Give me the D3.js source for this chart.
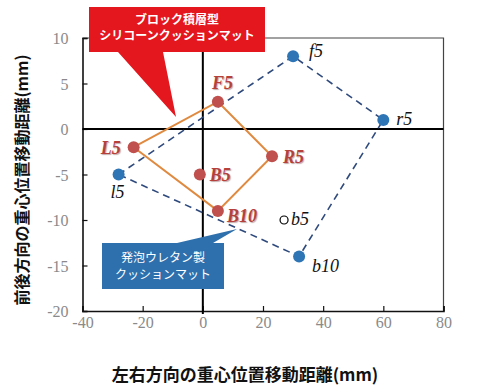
<!DOCTYPE html>
<html><head><meta charset="utf-8">
<script src="https://cdn.jsdelivr.net/npm/d3@7"></script>
<style>body{margin:0;background:#fff}</style>
</head><body>
<svg id="c" width="477" height="386"></svg>
<script>
const xTicks=[-40,-20,0,20,40,60,80];
const yTicks=[-20,-15,-10,-5,0,5,10];
const siliconeNames=["L5","F5","R5","B10"];
const siliconeX=[-23,5,23,5];
const siliconeY=[-2,3,-3,-9];
const siliconeExtraName=["B5"];
const siliconeExtraX=[-1];
const siliconeExtraY=[-5];
const urethaneNames=["l5","f5","r5","b10"];
const urethaneX=[-28,30,60,32];
const urethaneY=[-5,8,1,-14];
const urethaneOpenName=["b5"];
const urethaneOpenX=[27];
const urethaneOpenY=[-10];
const xTitle="左右方向の重心位置移動距離(mm)";
const yTitle="前後方向の重心位置移動距離(mm)";
const redCallout=["ブロック積層型","シリコーンクッションマット"];
const blueCallout=["発泡ウレタン製","クッションマット"];

const svg=d3.select("#c");
const L=82.5,R=443.5,T=38,B=311;
const x=d3.scaleLinear().domain([-40,80]).range([L,R]);
const y=d3.scaleLinear().domain([-20,10]).range([B,T]);
const serif="'Liberation Serif','Times New Roman',serif";
const sans="'Noto Sans CJK JP',sans-serif";

svg.append("path").attr("d",`M${L},${T}H${R}V${B}`).attr("fill","none").attr("stroke","#444").attr("stroke-width",1.2);

const gx=svg.append("g").attr("transform",`translate(0,${B})`)
  .call(d3.axisBottom(x).tickValues(xTicks).tickSize(-5).tickPadding(14).tickFormat(d=>String(d)));
const gy=svg.append("g").attr("transform",`translate(${L},0)`)
  .call(d3.axisLeft(y).tickValues(yTicks).tickSize(-5).tickPadding(14).tickFormat(d=>String(d)));
[gx,gy].forEach(g=>{
  g.attr("font-family",serif).attr("font-size",16);
  g.select(".domain").attr("stroke","#111").attr("stroke-width",1.6);
  g.selectAll(".tick line").attr("stroke","#111").attr("stroke-width",1.2);
  g.selectAll(".tick text").attr("fill","#8a8a8a");
});
gx.selectAll(".tick text").attr("dy","0.2em");
gy.selectAll(".tick text").attr("dy","0.35em");

svg.append("line").attr("x1",x(0)).attr("x2",x(0)).attr("y1",T).attr("y2",B+3).attr("stroke","#000").attr("stroke-width",2);
svg.append("line").attr("x1",L).attr("x2",R).attr("y1",y(0)).attr("y2",y(0)).attr("stroke","#000").attr("stroke-width",2);

const line=d3.line().x(d=>x(d[0])).y(d=>y(d[1]));
const uPts=urethaneX.map((v,i)=>[v,urethaneY[i]]);
const sPts=siliconeX.map((v,i)=>[v,siliconeY[i]]);

svg.append("path").attr("d",line([...uPts,uPts[0]])).attr("fill","none")
  .attr("stroke","#2f4a7c").attr("stroke-width",1.6).attr("stroke-dasharray","7,5");
svg.append("path").attr("d",line([...sPts,sPts[0]])).attr("fill","none")
  .attr("stroke","#e08a40").attr("stroke-width",2);

svg.selectAll(".up").data(uPts).join("circle").attr("cx",d=>x(d[0])).attr("cy",d=>y(d[1])).attr("r",6).attr("fill","#2e75b6");
svg.selectAll(".ob").data(urethaneOpenX.map((v,i)=>[v,urethaneOpenY[i]])).join("circle")
  .attr("cx",d=>x(d[0])).attr("cy",d=>y(d[1])).attr("r",4).attr("fill","#fff").attr("stroke","#000").attr("stroke-width",1.2);
const sAll=[...sPts,...siliconeExtraX.map((v,i)=>[v,siliconeExtraY[i]])];
svg.selectAll(".sp").data(sAll).join("circle").attr("cx",d=>x(d[0])).attr("cy",d=>y(d[1])).attr("r",6).attr("fill","#c0504d");

const redLab={L5:[-33,7],F5:[-6,-13],R5:[11,7],B10:[9,11],B5:[10,6]};
const sNames=[...siliconeNames,...siliconeExtraName];
svg.selectAll(".sl").data(sAll).join("text")
  .attr("x",(d,i)=>x(d[0])+redLab[sNames[i]][0]).attr("y",(d,i)=>y(d[1])+redLab[sNames[i]][1])
  .text((d,i)=>sNames[i]).attr("fill","#b5403c").attr("font-family",serif).attr("font-weight","bold")
  .attr("font-style","italic").attr("font-size",18)
  .style("text-shadow","1px 1px 1px rgba(120,60,60,0.45)");
const blueLab={l5:[-8,23],f5:[16,1],r5:[13,5],b10:[13,16],b5:[7,5]};
const uAll=[...uPts,...urethaneOpenX.map((v,i)=>[v,urethaneOpenY[i]])];
const uNames=[...urethaneNames,...urethaneOpenName];
svg.selectAll(".ul").data(uAll).join("text")
  .attr("x",(d,i)=>x(d[0])+blueLab[uNames[i]][0]).attr("y",(d,i)=>y(d[1])+blueLab[uNames[i]][1])
  .text((d,i)=>uNames[i]).attr("fill","#111").attr("font-family",serif)
  .attr("font-style","italic").attr("font-size",18);

svg.append("path").attr("d","M89,7H265V52H163L176,117L118,52H89Z").attr("fill","#e4161e");
svg.selectAll(".rc").data(redCallout).join("text").attr("x",177).attr("y",(d,i)=>24+i*16)
  .attr("text-anchor","middle").attr("fill","#fff").attr("font-family",sans).attr("font-size",12).attr("font-weight","bold").text(d=>d);
svg.append("path").attr("d","M102,243H177L237,229L213,243H224V289H102Z").attr("fill","#2e6fad");
svg.selectAll(".bc").data(blueCallout).join("text").attr("x",163).attr("y",(d,i)=>262+i*17)
  .attr("text-anchor","middle").attr("fill","#fff").attr("font-family",sans).attr("font-size",12).text(d=>d);

svg.append("text").attr("x",245).attr("y",381).attr("text-anchor","middle").text(xTitle)
  .attr("font-family",sans).attr("font-weight","bold").attr("font-size",17).attr("fill","#111");
svg.append("text").attr("transform","translate(28,180) rotate(-90)").attr("text-anchor","middle").text(yTitle)
  .attr("font-family",sans).attr("font-weight","bold").attr("font-size",16).attr("fill","#111");
</script>
</body></html>
